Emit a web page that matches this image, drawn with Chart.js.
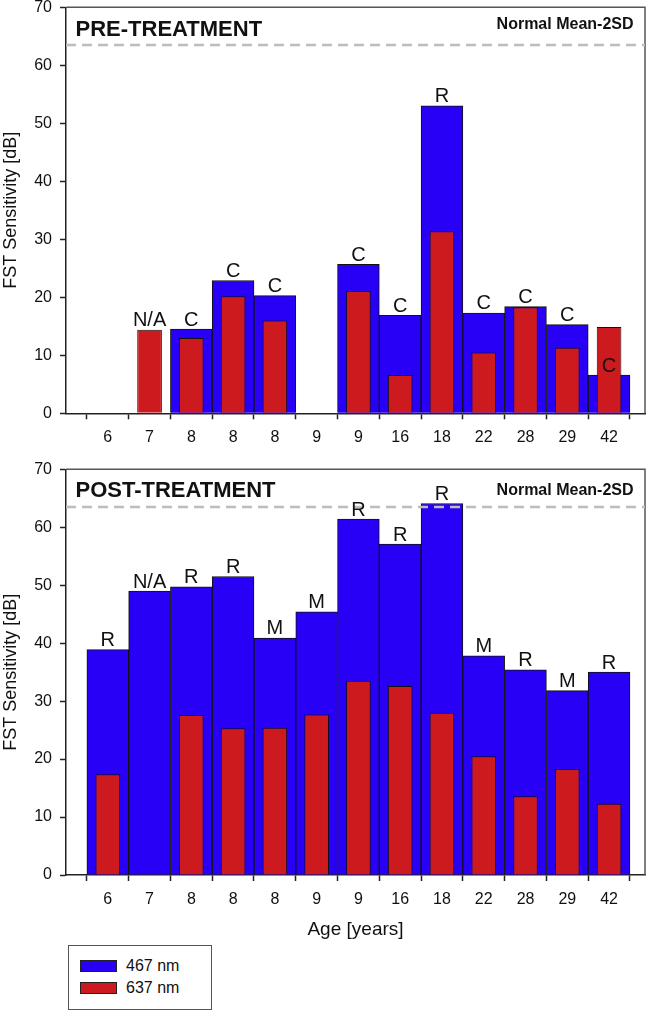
<!DOCTYPE html>
<html><head><meta charset="utf-8">
<script src="https://cdn.jsdelivr.net/npm/chart.js@4.4.1/dist/chart.umd.min.js"></script>
<style>
body{margin:0;background:#fff;width:650px;height:1012px;position:relative;overflow:hidden;font-family:'Liberation Sans',Arial,sans-serif;}
canvas{position:absolute;left:0;}
#legend{position:absolute;left:68px;top:945px;width:142px;height:63px;border:1px solid #555;background:#fff;}
.sw{position:absolute;left:11px;width:35px;height:10px;border:1px solid #222;}
.lt{position:absolute;left:57px;font-size:16px;color:#111;line-height:16px;white-space:nowrap;}
</style></head><body>
<canvas id="c1" width="650" height="450" style="top:0"></canvas>
<canvas id="c2" width="650" height="495" style="top:450px"></canvas>
<div id="legend">
  <div class="sw" style="top:14px;background:#2800f5"></div><div class="lt" style="top:12px">467 nm</div>
  <div class="sw" style="top:36px;background:#cc1a1e"></div><div class="lt" style="top:34px">637 nm</div>
</div>
<script>
// ---- data ----
const ageLabels = ['6','7','8','8','8','9','9','16','18','22','28','29','42'];
const pre467  = [null, null, 14.5, 22.9, 20.3, null, 25.7, 16.9, 53.0, 17.3, 18.4, 15.3, 6.6];
const pre637  = [null, 14.4, 13.0, 20.2, 16.0, null, 21.1, 6.6, 31.4, 10.5, 18.3, 11.3, 14.9];
const preCodes  = ['', 'N/A', 'C', 'C', 'C', '', 'C', 'C', 'R', 'C', 'C', 'C', 'C'];
const post467 = [38.9, 49.0, 49.7, 51.5, 40.9, 45.4, 61.4, 57.1, 64.1, 37.8, 35.4, 31.8, 35.0];
const post637 = [17.4, null, 27.6, 25.3, 25.4, 27.7, 33.5, 32.6, 28.0, 20.5, 13.6, 18.3, 12.3];
const postCodes = ['R', 'N/A', 'R', 'R', 'M', 'M', 'R', 'R', 'R', 'M', 'R', 'M', 'R'];
const normalMean2SD = 63.5;
const yTickValues = [0, 10, 20, 30, 40, 50, 60, 70];
const seriesNames = ['467 nm', '637 nm'];

const BLUE = '#2800f5', RED = '#cc1a1e';
const FONT = "'Liberation Sans', Arial, sans-serif";

function toPts(arr){ return arr.map((v,i)=>({x:i, y:v})); }

function annot(cfg){
  return {
    id:'annot',
    afterDatasetsDraw(chart){
      const {ctx, chartArea:a} = chart;
      const y = chart.scales.y;
      ctx.save();
      // frame top/right
      ctx.strokeStyle = '#555'; ctx.lineWidth = 1.5; ctx.setLineDash([]);
      ctx.beginPath(); ctx.moveTo(a.left, a.top); ctx.lineTo(a.right, a.top); ctx.lineTo(a.right, a.bottom); ctx.stroke();
      // dashed normal line
      const yy = y.getPixelForValue(normalMean2SD);
      ctx.strokeStyle = '#bdbdbd'; ctx.lineWidth = 2.5; ctx.setLineDash([10,6]);
      ctx.beginPath(); ctx.moveTo(a.left, yy); ctx.lineTo(a.right, yy); ctx.stroke();
      ctx.setLineDash([]);
      // codes
      const mBlue = chart.getDatasetMeta(1), mRed = chart.getDatasetMeta(0);
      ctx.fillStyle = '#111'; ctx.font = '20px ' + FONT; ctx.textAlign = 'center'; ctx.textBaseline = 'alphabetic';
      cfg.codes.forEach((c,i)=>{
        if(!c) return;
        const el = cfg.blue[i] != null ? mBlue.data[i] : mRed.data[i];
        ctx.fillText(c, el.x, el.y - 3.5);
      });
      // titles
      ctx.font = 'bold 22px ' + FONT; ctx.textAlign = 'left';
      ctx.fillText(cfg.title, a.left + 9.5, a.top + cfg.titleOff);
      ctx.font = 'bold 16px ' + FONT; ctx.textAlign = 'right';
      ctx.fillText('Normal Mean-2SD', a.right - 11.5, a.top + cfg.noteOff);
      ctx.restore();
    }
  };
}

function makeChart(id, cfg){
  new Chart(document.getElementById(id), {
    type:'bar',
    data:{ datasets:[
      {label:seriesNames[1], data:toPts(cfg.red), backgroundColor:RED, borderColor:'#111', borderWidth:1, grouped:false, barPercentage:0.59, categoryPercentage:1},
      {label:seriesNames[0], data:toPts(cfg.blue), backgroundColor:BLUE, borderColor:'#111', borderWidth:1, grouped:false, barPercentage:1, categoryPercentage:1}
    ]},
    options:{
      responsive:false, animation:false, devicePixelRatio:1,
      layout:{padding:{top:cfg.padTop, right:5, left:0, bottom:0}},
      plugins:{legend:{display:false}, tooltip:{enabled:false}},
      scales:{
        x:{ type:'linear', min:-1, max:12.86, offset:false,
          afterBuildTicks(s){ s.ticks = [-1].concat(ageLabels.map((_,i)=>i)).map(v=>({value:v})); },
          afterFit(s){ s.height = cfg.xH; s.paddingLeft = 0; s.paddingRight = 0; },
          ticks:{ callback:(v)=> (ageLabels[v] !== undefined ? ageLabels[v] : ''), autoSkip:false, maxRotation:0, padding:9, color:'#111', font:{family:FONT, size:16} },
          grid:{ drawOnChartArea:false, drawTicks:true, tickLength:6, tickColor:'#222', tickWidth:1.5 },
          border:{ display:true, color:'#222', width:1.5 },
          title:{ display:cfg.xTitle, text:'Age [years]', color:'#111', font:{family:FONT, size:19}, padding:{top:0, bottom:cfg.xTitlePad} }
        },
        y:{ min:0, max:70,
          afterBuildTicks(s){ s.ticks = yTickValues.map(v=>({value:v})); },
          afterFit(s){ s.width = 66; s.paddingTop = 0; s.paddingBottom = 0; },
          ticks:{ padding:8, color:'#111', font:{family:FONT, size:16} },
          grid:{ drawOnChartArea:false, drawTicks:true, tickLength:6, tickColor:'#222', tickWidth:1.5 },
          border:{ display:true, color:'#222', width:1.5 },
          title:{ display:true, text:'FST Sensitivity [dB]', color:'#111', font:{family:FONT, size:18}, padding:{top:0, bottom:0} }
        }
      }
    },
    plugins:[annot(cfg)]
  });
}

makeChart('c1', {red:pre637, blue:pre467, codes:preCodes, title:'PRE-TREATMENT', titleOff:28.7, noteOff:22, padTop:7.3, xH:36.7, xTitle:false, xTitlePad:0});
makeChart('c2', {red:post637, blue:post467, codes:postCodes, title:'POST-TREATMENT', titleOff:28, noteOff:25.7, padTop:19.3, xH:70, xTitle:true, xTitlePad:4});
</script>
</body></html>
